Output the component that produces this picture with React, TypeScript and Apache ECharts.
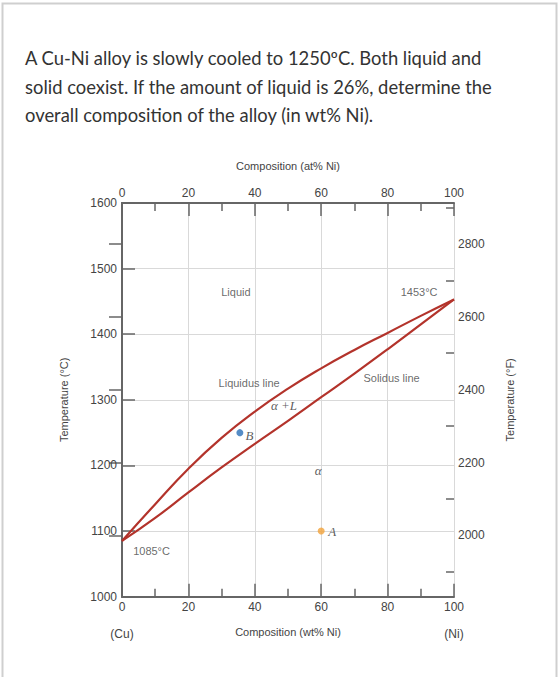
import React, { useEffect, useRef } from 'react';
import * as echarts from 'echarts';

// ---- data ----
const titleLines = [
  'A Cu-Ni alloy is slowly cooled to 1250ºC. Both liquid and',
  'solid coexist. If the amount of liquid is 26%, determine the',
  'overall composition of the alloy (in wt% Ni).',
];
const compositionWt = [0, 10, 20, 30, 40, 50, 60, 70, 80, 90, 100];
const liquidusC = [1085, 1141, 1195, 1242, 1282, 1317, 1348, 1376, 1402, 1428, 1453];
const solidusC = [1085, 1120, 1159, 1197, 1233, 1268, 1304, 1340, 1377, 1415, 1453];
const pointB = [35.5, 1250];
const pointA = [60, 1100];
const fahrenheitMajor = [2000, 2200, 2400, 2600, 2800];
const fahrenheitMinor = [1900, 2100, 2300, 2500, 2700, 2900];
const plainLabels = [
  { text: 'Liquid', x: 34.3, t: 1464.5 },
  { text: '1453°C', x: 89.5, t: 1464.5 },
  { text: 'Liquidus line', x: 38.3, t: 1325 },
  { text: 'Solidus line', x: 81.2, t: 1333.5 },
  { text: '1085°C', x: 8.9, t: 1070 },
];
const italicLabels = [
  { text: 'α +L', x: 48.8, t: 1292 },
  { text: 'B', x: 38.4, t: 1245 },
  { text: 'α', x: 59.1, t: 1192 },
  { text: 'A', x: 63.3, t: 1100 },
];

const C_MIN = 1000;
const C_MAX = 1600;
const toF = (c: number) => c * 1.8 + 32;

const AXIS_COLOR = '#666';
const TEXT_COLOR = '#444';
const GRID_COLOR = '#d9d9d9';
const CURVE_COLOR = '#b3332b';
const SANS = '"Liberation Sans", Arial, sans-serif';
const SERIF = '"Liberation Serif", "DejaVu Serif", serif';
const plain = (v: number) => String(Math.round(v));

export default function App() {
  const ref = useRef<HTMLDivElement>(null);
  useEffect(() => {
    if (!ref.current) return;
    const chart = echarts.init(ref.current, undefined, { renderer: 'svg' });
    const xCommon = {
      type: 'value' as const,
      min: 0,
      max: 100,
      interval: 20,
      axisLine: { show: true, lineStyle: { color: AXIS_COLOR, width: 2 } },
      axisTick: { show: true, inside: true, length: 13, lineStyle: { color: AXIS_COLOR, width: 1.5 } },
      minorTick: { show: true, splitNumber: 2, length: 8, lineStyle: { color: AXIS_COLOR, width: 1.5 } },
      nameLocation: 'middle' as const,
      nameMoveOverlap: false,
      nameTextStyle: { color: TEXT_COLOR, fontSize: 11, fontFamily: SANS },
    };
    const option: any = {
      animation: false,
      backgroundColor: '#fff',
      graphic: [
        {
          type: 'rect',
          shape: { x: 2.5, y: 3.5, width: 554, height: 720 },
          style: { fill: 'none', stroke: '#cfcfcf', lineWidth: 2 },
          silent: true,
        },
        {
          type: 'text',
          x: 25,
          y: 44,
          style: {
            text: titleLines.join('\n'),
            fill: '#333',
            font: '18.4px Lato, sans-serif',
            lineHeight: 28.5,
          },
        },
      ],
      grid: { left: 122, right: 106, top: 203, bottom: 80.3, containLabel: false },
      xAxis: [
        {
          ...xCommon,
          position: 'bottom',
          name: 'Composition (wt% Ni)',
          nameGap: 30,
          splitLine: { show: true, lineStyle: { color: GRID_COLOR, width: 1 } },
          axisLabel: {
            color: TEXT_COLOR,
            fontSize: 12,
            fontFamily: SANS,
            margin: 4,
            lineHeight: 13.5,
            formatter: (v: number) => (v === 0 ? '0\n\n(Cu)' : v === 100 ? '100\n\n(Ni)' : plain(v)),
          },
        },
        {
          ...xCommon,
          position: 'top',
          name: 'Composition (at% Ni)',
          nameGap: 32,
          splitLine: { show: false },
          axisLabel: { color: TEXT_COLOR, fontSize: 12, fontFamily: SANS, margin: 4, formatter: plain },
        },
      ],
      yAxis: [
        {
          type: 'value',
          position: 'left',
          min: C_MIN,
          max: C_MAX,
          interval: 100,
          name: 'Temperature (°C)',
          nameLocation: 'middle',
          nameMoveOverlap: false,
          nameRotate: 90,
          nameGap: 53,
          nameTextStyle: { color: TEXT_COLOR, fontSize: 11, fontFamily: SANS },
          axisLine: { show: true, lineStyle: { color: AXIS_COLOR, width: 2 } },
          axisTick: { show: true, inside: true, length: 13, lineStyle: { color: AXIS_COLOR, width: 1.5 } },
          splitLine: { show: true, lineStyle: { color: GRID_COLOR, width: 1 } },
          axisLabel: { color: TEXT_COLOR, fontSize: 12, fontFamily: SANS, margin: 5, formatter: plain },
        },
        {
          type: 'value',
          position: 'right',
          min: toF(C_MIN),
          max: toF(C_MAX),
          name: 'Temperature (°F)',
          nameLocation: 'middle',
          nameMoveOverlap: false,
          nameRotate: 90,
          nameGap: 50,
          nameTextStyle: { color: TEXT_COLOR, fontSize: 11, fontFamily: SANS },
          axisLine: { show: true, lineStyle: { color: AXIS_COLOR, width: 2 } },
          axisTick: {
            show: true,
            inside: true,
            length: 13,
            customValues: fahrenheitMajor,
            lineStyle: { color: AXIS_COLOR, width: 1.5 },
          },
          splitLine: { show: false },
          axisLabel: {
            color: TEXT_COLOR,
            fontSize: 12,
            fontFamily: SANS,
            margin: 4,
            customValues: fahrenheitMajor,
            formatter: plain,
          },
        },
        {
          type: 'value',
          position: 'right',
          min: toF(C_MIN),
          max: toF(C_MAX),
          axisLine: { show: false },
          axisTick: {
            show: true,
            inside: true,
            length: 8,
            customValues: fahrenheitMinor,
            lineStyle: { color: AXIS_COLOR, width: 1.5 },
          },
          splitLine: { show: false },
          axisLabel: { show: false },
        },
      ],
      series: [
        {
          name: 'Liquidus',
          type: 'line',
          smooth: true,
          symbol: 'none',
          lineStyle: { color: CURVE_COLOR, width: 2.2 },
          data: compositionWt.map((x, i) => [x, liquidusC[i]]),
          z: 3,
        },
        {
          name: 'Solidus',
          type: 'line',
          smooth: true,
          symbol: 'none',
          lineStyle: { color: CURVE_COLOR, width: 2.2 },
          data: compositionWt.map((x, i) => [x, solidusC[i]]),
          z: 3,
        },
        {
          name: 'B',
          type: 'scatter',
          symbolSize: 7,
          itemStyle: { color: '#2a6fb8' },
          data: [pointB],
          z: 4,
        },
        {
          name: 'A',
          type: 'scatter',
          symbolSize: 7,
          itemStyle: { color: '#f2a23a' },
          data: [pointA],
          z: 4,
        },
        {
          name: 'labels',
          type: 'scatter',
          symbolSize: 0,
          silent: true,
          data: plainLabels.map((l) => ({ value: [l.x, l.t], name: l.text })),
          label: {
            show: true,
            position: 'inside',
            formatter: (p: any) => p.name,
            color: TEXT_COLOR,
            fontSize: 11,
            fontFamily: SANS,
          },
          z: 5,
        },
        {
          name: 'italicLabels',
          type: 'scatter',
          symbolSize: 0,
          silent: true,
          data: italicLabels.map((l) => ({ value: [l.x, l.t], name: l.text })),
          label: {
            show: true,
            position: 'inside',
            formatter: (p: any) => p.name,
            color: '#333',
            fontSize: 13,
            fontStyle: 'italic',
            fontFamily: SERIF,
          },
          z: 5,
        },
      ],
    };
    chart.setOption(option);
    return () => chart.dispose();
  }, []);
  return (
    <div
      ref={ref}
      style={{ position: 'fixed', left: 0, top: 0, width: 560, height: 677, background: '#fff' }}
    />
  );
}
